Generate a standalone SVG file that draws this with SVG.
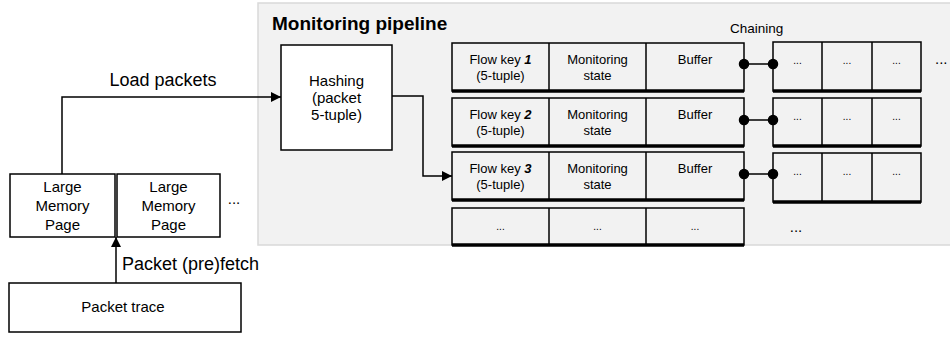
<svg xmlns="http://www.w3.org/2000/svg" width="950" height="338" viewBox="0 0 950 338">
<defs>
<style>
text{font-family:"Liberation Sans",Arial,sans-serif;fill:#000}
.box{fill:#fff;stroke:#000;stroke-width:1.5}
.cell{fill:none;stroke:#000;stroke-width:1.5}
.thick{stroke:#000;stroke-width:3.5}
.sm{font-size:13px;text-anchor:middle}
.md{font-size:15px;text-anchor:middle}
.lg{font-size:18px}
.dots{font-size:10px;text-anchor:middle}
.ln{fill:none;stroke:#000;stroke-width:1.5}
</style>
<marker id="arr" viewBox="0 0 10 10" refX="10" refY="5" markerWidth="10" markerHeight="10" markerUnits="userSpaceOnUse" orient="auto">
<path d="M0,0 L10,5 L0,10 Z" fill="#000"/>
</marker>
</defs>
<g id="panel">
<rect x="258" y="3" width="700" height="242" fill="#f2f2f2" stroke="#d9d9d9" stroke-width="1.5"/>
<text x="272" y="30" style="font-size:19px;font-weight:bold">Monitoring pipeline</text>
<text x="730" y="33" style="font-size:13.5px">Chaining</text>
</g>
<g id="page1">
<rect class="box" x="10" y="174" width="105" height="63"/>
<text class="md" x="62.5" y="192">Large</text>
<text class="md" x="62.5" y="211">Memory</text>
<text class="md" x="62.5" y="230">Page</text>
</g>
<g id="page2">
<rect class="box" x="117" y="174" width="103" height="63"/>
<text class="md" x="168.5" y="192">Large</text>
<text class="md" x="168.5" y="211">Memory</text>
<text class="md" x="168.5" y="230">Page</text>
</g>
<text x="234" y="204" style="font-size:15px;text-anchor:middle">...</text>
<g id="trace">
<rect class="box" x="9" y="283" width="232" height="49"/>
<text class="md" x="123" y="312">Packet trace</text>
</g>
<g id="hashing">
<rect class="box" x="281" y="45" width="111" height="105"/>
<text class="md" x="336.5" y="86">Hashing</text>
<text class="md" x="336.5" y="103">(packet</text>
<text class="md" x="336.5" y="120">5-tuple)</text>
</g>
<g id="row1">
<rect class="cell" x="452" y="43" width="292" height="48"/>
<line class="cell" x1="549" y1="43" x2="549" y2="91"/>
<line class="cell" x1="646" y1="43" x2="646" y2="91"/>
<line class="thick" x1="452" y1="91" x2="744" y2="91"/>
<text class="sm" x="500.5" y="64">Flow key <tspan font-weight="bold" font-style="italic">1</tspan></text>
<text class="sm" x="500.5" y="80">(5-tuple)</text>
<text class="sm" x="597.5" y="64">Monitoring</text>
<text class="sm" x="597.5" y="80">state</text>
<text class="sm" x="695" y="64">Buffer</text>
</g>
<g id="row2">
<rect class="cell" x="452" y="98" width="292" height="48"/>
<line class="cell" x1="549" y1="98" x2="549" y2="146"/>
<line class="cell" x1="646" y1="98" x2="646" y2="146"/>
<line class="thick" x1="452" y1="146" x2="744" y2="146"/>
<text class="sm" x="500.5" y="119">Flow key <tspan font-weight="bold" font-style="italic">2</tspan></text>
<text class="sm" x="500.5" y="135">(5-tuple)</text>
<text class="sm" x="597.5" y="119">Monitoring</text>
<text class="sm" x="597.5" y="135">state</text>
<text class="sm" x="695" y="119">Buffer</text>
</g>
<g id="row3">
<rect class="cell" x="452" y="152" width="292" height="48"/>
<line class="cell" x1="549" y1="152" x2="549" y2="200"/>
<line class="cell" x1="646" y1="152" x2="646" y2="200"/>
<line class="thick" x1="452" y1="200" x2="744" y2="200"/>
<text class="sm" x="500.5" y="173">Flow key <tspan font-weight="bold" font-style="italic">3</tspan></text>
<text class="sm" x="500.5" y="189">(5-tuple)</text>
<text class="sm" x="597.5" y="173">Monitoring</text>
<text class="sm" x="597.5" y="189">state</text>
<text class="sm" x="695" y="173">Buffer</text>
</g>
<g id="row4">
<rect class="cell" x="452" y="208" width="292" height="37"/>
<line class="cell" x1="549" y1="208" x2="549" y2="245"/>
<line class="cell" x1="646" y1="208" x2="646" y2="245"/>
<line class="thick" x1="452" y1="245" x2="744" y2="245"/>
<text class="dots" x="500.5" y="230">...</text>
<text class="dots" x="597.5" y="230">...</text>
<text class="dots" x="695" y="230">...</text>
</g>
<g id="chain1">
<rect class="cell" x="773" y="42" width="148" height="49"/>
<line class="cell" x1="822" y1="42" x2="822" y2="91"/>
<line class="cell" x1="872" y1="42" x2="872" y2="91"/>
<line class="thick" x1="773" y1="91" x2="921" y2="91"/>
<text class="dots" x="797.5" y="64">...</text>
<text class="dots" x="847" y="64">...</text>
<text class="dots" x="896.5" y="64">...</text>
</g>
<g id="chain2">
<rect class="cell" x="773" y="98" width="148" height="48"/>
<line class="cell" x1="822" y1="98" x2="822" y2="146"/>
<line class="cell" x1="872" y1="98" x2="872" y2="146"/>
<line class="thick" x1="773" y1="146" x2="921" y2="146"/>
<text class="dots" x="797.5" y="120">...</text>
<text class="dots" x="847" y="120">...</text>
<text class="dots" x="896.5" y="120">...</text>
</g>
<g id="chain3">
<rect class="cell" x="773" y="153" width="148" height="49"/>
<line class="cell" x1="822" y1="153" x2="822" y2="202"/>
<line class="cell" x1="872" y1="153" x2="872" y2="202"/>
<line class="thick" x1="773" y1="202" x2="921" y2="202"/>
<text class="dots" x="797.5" y="175">...</text>
<text class="dots" x="847" y="175">...</text>
<text class="dots" x="896.5" y="175">...</text>
</g>
<text x="796" y="232" style="font-size:15px;text-anchor:middle">...</text>
<text x="935" y="64" style="font-size:15px">...</text>
<g id="connectors">
<path class="ln" d="M62,174 V97 H281" marker-end="url(#arr)"/>
<text class="lg" x="163" y="86" text-anchor="middle">Load packets</text>
<path class="ln" d="M116,283 V237" marker-end="url(#arr)"/>
<text class="lg" x="122" y="270">Packet (pre)fetch</text>
<path class="ln" d="M392,96 H423 V176 H452" marker-end="url(#arr)"/>
<g fill="#000" stroke="#000" stroke-width="1.5">
<line x1="744" y1="64" x2="773" y2="64"/>
<circle cx="744" cy="64" r="4.5"/>
<circle cx="773" cy="64" r="4.5"/>
<line x1="744" y1="120" x2="773" y2="120"/>
<circle cx="744" cy="120" r="4.5"/>
<circle cx="773" cy="120" r="4.5"/>
<line x1="744" y1="174" x2="773" y2="174"/>
<circle cx="744" cy="174" r="4.5"/>
<circle cx="773" cy="174" r="4.5"/>
</g>
</g>
</svg>
